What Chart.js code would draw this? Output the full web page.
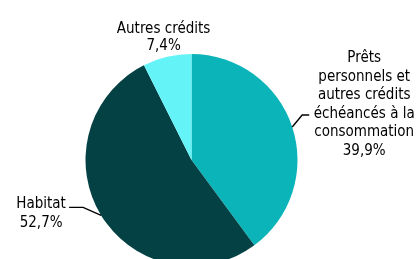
<!DOCTYPE html>
<html>
<head>
<meta charset="utf-8">
<script src="https://cdn.jsdelivr.net/npm/chart.js@4/dist/chart.umd.min.js"></script>
<style>
  html, body { margin: 0; padding: 0; background: #fff; overflow: hidden; }
  #wrap { width: 419px; height: 259px; overflow: hidden; }
  canvas { display: block; }
</style>
</head>
<body>
<div id="wrap"><canvas id="c" width="419" height="270"></canvas></div>
<script>
// ---- Data ----
const categories = [
  ["Prêts", "personnels et", "autres crédits", "échéancés à la", "consommation"],
  ["Habitat"],
  ["Autres crédits"]
];
const values = [39.9, 52.7, 7.4];
const colors = ["#0AB4B9", "#044145", "#64F4F8"];

function fmt(v) { return v.toFixed(1).replace('.', ',') + '%'; }

// ---- Label placement styles (relative to slice mid-point on rim) ----
const labelStyle = [
  { leader: [[10, -12], [17, -12]], textDx: 72, textDy: -65, lh: 18.6 },
  { leader: [[-18, -8], [-32, -8]], textDx: -60, textDy: -7, lh: 18.3 },
  { leader: null, textDx: -3.5, textDy: -24, lh: 17 }
];

const labelPlugin = {
  id: 'outerLabels',
  afterDatasetsDraw(chart) {
    const ctx = chart.ctx;
    const meta = chart.getDatasetMeta(0);
    ctx.save();
    ctx.font = '15px "DejaVu Sans Condensed", "DejaVu Sans", sans-serif';
    ctx.fillStyle = '#000';
    ctx.strokeStyle = '#000';
    ctx.lineWidth = 1.4;
    ctx.textAlign = 'center';
    ctx.textBaseline = 'alphabetic';
    meta.data.forEach((arc, i) => {
      const p = arc.getProps(['x', 'y', 'startAngle', 'endAngle', 'outerRadius'], true);
      const mid = (p.startAngle + p.endAngle) / 2;
      const ex = p.x + Math.cos(mid) * p.outerRadius;
      const ey = p.y + Math.sin(mid) * p.outerRadius;
      const st = labelStyle[i];
      if (st.leader) {
        ctx.beginPath();
        ctx.moveTo(ex, ey);
        st.leader.forEach(([dx, dy]) => ctx.lineTo(ex + dx, ey + dy));
        ctx.stroke();
      }
      const lines = categories[i].concat([fmt(values[i])]);
      const tx = ex + st.textDx;
      let ty = ey + st.textDy;
      lines.forEach((ln, k) => {
        ctx.fillText(ln, tx, ty + k * st.lh);
      });
    });
    ctx.restore();
  }
};

new Chart(document.getElementById('c'), {
  type: 'pie',
  data: {
    labels: categories.map(c => c.join(' ')),
    datasets: [{
      data: values,
      backgroundColor: colors,
      borderWidth: 0
    }]
  },
  options: {
    responsive: false,
    devicePixelRatio: 1,
    animation: false,
    layout: { padding: { left: 85.5, right: 121.5, top: 54, bottom: 4 } },
    plugins: {
      legend: { display: false },
      tooltip: { enabled: false }
    }
  },
  plugins: [labelPlugin]
});
</script>
</body>
</html>
